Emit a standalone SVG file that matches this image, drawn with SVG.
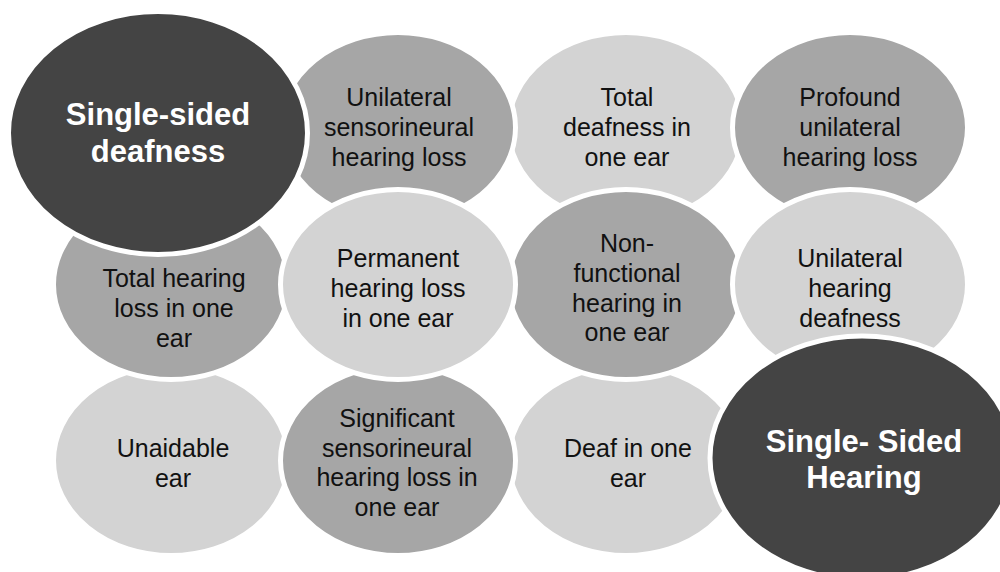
<svg xmlns="http://www.w3.org/2000/svg" width="1000" height="572" viewBox="0 0 1000 572">
<style>
.e{stroke:#ffffff;stroke-width:5}
.d{fill:#444444}
.m{fill:#a6a6a6}
.l{fill:#d3d3d3}
.t{font-family:"Liberation Sans",Arial,sans-serif;font-size:25px;fill:#111111;text-anchor:middle}
.b{font-family:"Liberation Sans",Arial,sans-serif;font-size:31px;font-weight:bold;fill:#ffffff;text-anchor:middle}
</style>
<rect width="1000" height="572" fill="#ffffff"/>
<g id="connectors"></g>
<g id="n-total-deafness">
<ellipse class="e l" cx="626" cy="127.5" rx="117.5" ry="95"/>
<text class="t" x="627" y="106">Total</text>
<text class="t" x="627" y="136">deafness in</text>
<text class="t" x="627" y="166">one ear</text>
</g>
<g id="n-unilateral-sensorineural">
<ellipse class="e m" cx="398" cy="127.5" rx="117.5" ry="95"/>
<text class="t" x="399" y="106">Unilateral</text>
<text class="t" x="399" y="136">sensorineural</text>
<text class="t" x="399" y="166">hearing loss</text>
</g>
<g id="n-profound">
<ellipse class="e m" cx="850" cy="127.5" rx="117.5" ry="95"/>
<text class="t" x="850" y="106">Profound</text>
<text class="t" x="850" y="136">unilateral</text>
<text class="t" x="850" y="166">hearing loss</text>
</g>
<g id="n-unaidable">
<ellipse class="e l" cx="171" cy="460.5" rx="117.5" ry="95"/>
<text class="t" x="173" y="457">Unaidable</text>
<text class="t" x="173" y="487">ear</text>
</g>
<g id="n-deaf-one-ear">
<ellipse class="e l" cx="626" cy="460.5" rx="117.5" ry="95"/>
<text class="t" x="628" y="457">Deaf in one</text>
<text class="t" x="628" y="487">ear</text>
</g>
<g id="n-significant">
<ellipse class="e m" cx="398" cy="460.5" rx="117.5" ry="95"/>
<text class="t" x="397" y="427">Significant</text>
<text class="t" x="397" y="457">sensorineural</text>
<text class="t" x="397" y="486">hearing loss in</text>
<text class="t" x="397" y="516">one ear</text>
</g>
<g id="n-total-hearing-loss">
<ellipse class="e m" cx="171" cy="284.5" rx="117.5" ry="95"/>
<text class="t" x="174" y="287">Total hearing</text>
<text class="t" x="174" y="317">loss in one</text>
<text class="t" x="174" y="347">ear</text>
</g>
<g id="n-non-functional">
<ellipse class="e m" cx="626" cy="284.5" rx="117.5" ry="95"/>
<text class="t" x="627" y="252">Non-</text>
<text class="t" x="627" y="282">functional</text>
<text class="t" x="627" y="312">hearing in</text>
<text class="t" x="627" y="341">one ear</text>
</g>
<g id="n-permanent">
<ellipse class="e l" cx="398" cy="284.5" rx="117.5" ry="95"/>
<text class="t" x="398" y="267">Permanent</text>
<text class="t" x="398" y="297">hearing loss</text>
<text class="t" x="398" y="327">in one ear</text>
</g>
<g id="n-unilateral-hearing-deafness">
<ellipse class="e l" cx="850" cy="284.5" rx="117.5" ry="95"/>
<text class="t" x="850" y="267">Unilateral</text>
<text class="t" x="850" y="297">hearing</text>
<text class="t" x="850" y="327">deafness</text>
</g>
<g id="n-single-sided-deafness">
<ellipse class="e d" cx="158" cy="133" rx="149.5" ry="121.5"/>
<text class="b" x="158" y="125">Single-sided</text>
<text class="b" x="158" y="162">deafness</text>
</g>
<g id="n-single-sided-hearing">
<ellipse class="e d" cx="862" cy="458" rx="152" ry="122"/>
<text class="b" x="864" y="452">Single- Sided</text>
<text class="b" x="864" y="488">Hearing</text>
</g>
</svg>
